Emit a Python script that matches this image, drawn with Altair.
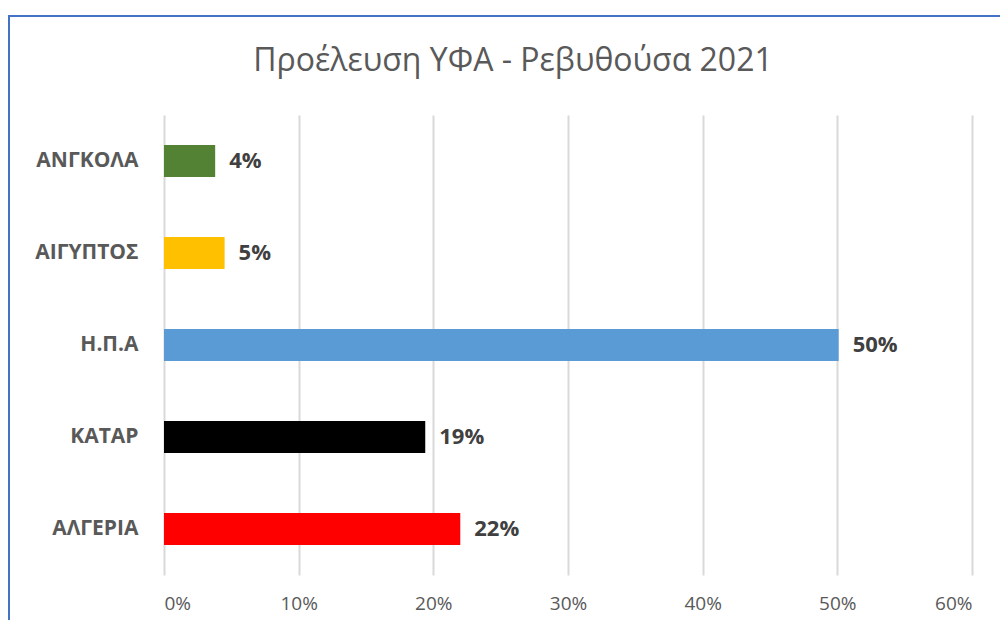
import altair as alt
import pandas as pd

countries = ["ΑΝΓΚΟΛΑ", "ΑΙΓΥΠΤΟΣ", "Η.Π.Α", "ΚΑΤΑΡ", "ΑΛΓΕΡΙΑ"]
shares = [0.038, 0.045, 0.501, 0.194, 0.220]
colors = ["#548235", "#FFC000", "#5B9BD5", "#000000", "#FF0000"]
title_text = "Προέλευση ΥΦΑ - Ρεβυθούσα 2021"

df = pd.DataFrame({"country": countries, "share": shares})

FONT = "Open Sans"
W, H = 808, 460
PL, PT = 156, 107

x_enc = alt.X("share:Q",
              scale=alt.Scale(domain=[0, 0.6], nice=False),
              axis=alt.Axis(format=".0%", values=[0, 0.1, 0.2, 0.3, 0.4, 0.5, 0.6],
                            title=None, domain=False, ticks=False, grid=True,
                            gridColor="#d9d9d9", gridWidth=2,
                            labelColor="#595959", labelFontSize=19, labelFont=FONT,
                            labelPadding=19))
y_enc = alt.Y("country:N", sort=countries,
              scale=alt.Scale(paddingInner=0.65, paddingOuter=0.325),
              axis=alt.Axis(title=None, domain=False, ticks=False,
                            labelColor="#595959", labelFontSize=21, labelFontWeight="bold",
                            labelFont=FONT, labelPadding=26))

base = alt.Chart(df)

bars = base.mark_bar().encode(
    x=x_enc, y=y_enc,
    color=alt.Color("country:N", scale=alt.Scale(domain=countries, range=colors), legend=None),
)

labels = base.mark_text(align="left", baseline="middle", dx=14, fontSize=22,
                        fontWeight="bold", color="#404040", font=FONT).encode(
    x="share:Q", y=alt.Y("country:N", sort=countries),
    text=alt.Text("share:Q", format=".0%"),
)

title = alt.Chart(pd.DataFrame({"t": [title_text]})).mark_text(
    font=FONT, fontSize=32, color="#595959", align="center", baseline="middle").encode(
    x=alt.value(349), y=alt.value(-54), text="t:N")

border_left = alt.Chart(df).mark_rule(color="#4472C4", strokeWidth=2).encode(
    x=alt.value(-155), y=alt.value(-99), y2=alt.value(520))
border_top = alt.Chart(df).mark_rule(color="#4472C4", strokeWidth=2).encode(
    x=alt.value(-156), x2=alt.value(900), y=alt.value(-99))

chart = alt.layer(bars, labels, title, border_left, border_top).properties(
    width=W, height=H,
    autosize=alt.AutoSizeParams(type="none"),
    padding={"left": PL, "top": PT, "right": 28, "bottom": 45},
).configure_view(stroke=None)

chart.save("out.html", embed_options={"renderer": "svg", "actions": False})
